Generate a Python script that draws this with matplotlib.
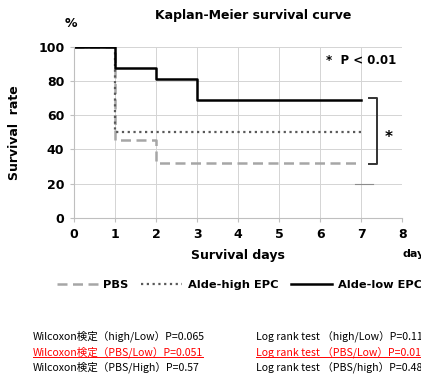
import matplotlib.pyplot as plt
from matplotlib.lines import Line2D

plt.rcParams['font.family'] = ['DejaVu Sans']

# survival data (% surviving at each day, step after)
days = [0, 1, 2, 3, 7]
low_epc = [100, 87.5, 81.25, 68.75, 68.75]
high_epc = [100, 50, 50, 50, 50]
pbs = [100, 45.5, 31.8, 31.8, 31.8]

xticks = list(range(0, 9))
yticks = [0, 20, 40, 60, 80, 100]

stats_left = ['Wilcoxon検定（high/Low）P=0.065',
              'Wilcoxon検定（PBS/Low）P=0.051',
              'Wilcoxon検定（PBS/High）P=0.57']
stats_right = ['Log rank test （high/Low）P=0.11',
               'Log rank test （PBS/Low）P=0.01',
               'Log rank test （PBS/high）P=0.48']
highlight_row = 1

fig = plt.figure(figsize=(4.21, 3.77), dpi=100)
ax = fig.add_axes([0.176, 0.422, 0.780, 0.454])

ax.step(days, pbs, where='post', color='#a6a6a6', lw=1.8, ls=(0, (4, 2.2)), label='PBS')
ax.step(days, high_epc, where='post', color='#595959', lw=1.6, ls=(0, (1, 1.6)), label='Alde-high EPC')
ax.step(days, low_epc, where='post', color='black', lw=1.8, label='Alde-low EPC')

ax.set_xlim(0, 8)
ax.set_ylim(0, 100)
ax.set_xticks(xticks)
ax.set_yticks(yticks)
ax.grid(True, color='#d4d4d4', lw=0.7)
ax.set_axisbelow(True)
for s in ['top', 'right']:
    ax.spines[s].set_visible(False)
for s in ['left', 'bottom']:
    ax.spines[s].set_color('#bfbfbf')
    ax.spines[s].set_linewidth(0.8)
ax.tick_params(length=3, color='#bfbfbf', labelsize=9, pad=4)
for lab in ax.get_xticklabels() + ax.get_yticklabels():
    lab.set_fontweight('bold')

ax.set_title('Kaplan-Meier survival curve', fontsize=9, fontweight='bold', pad=20, x=0.545)
ax.set_xlabel('Survival days', fontsize=9, fontweight='bold', labelpad=6)
ax.set_ylabel('Survival  rate', fontsize=9, fontweight='bold', labelpad=12)
ax.text(-0.03, 1.115, '%', transform=ax.transAxes, fontsize=9, fontweight='bold', ha='left')
ax.text(8.0, -21, 'days', fontsize=8, fontweight='bold', ha='left', va='center', clip_on=False)

# significance annotation
ax.text(7.0, 92, '*  P < 0.01', fontsize=8.5, fontweight='bold', ha='center', va='center')
ax.plot([7.18, 7.38, 7.38, 7.18], [69.9, 69.9, 31.3, 31.3], color='#333333', lw=1.4, clip_on=False)
ax.text(7.66, 47, '*', fontsize=11, fontweight='bold', ha='center', va='center', clip_on=False)
ax.plot([6.85, 7.27], [20, 20], color='#8c8c8c', lw=0.8)

fig.legend(loc='center', bbox_to_anchor=(0.568, 0.245), ncol=3, frameon=False,
           handlelength=3.6, handletextpad=0.5, columnspacing=1.1,
           prop={'weight': 'bold', 'size': 8.2})

# test results
cjk = ['Noto Sans CJK JP', 'DejaVu Sans']
ys = [0.107, 0.067, 0.027]
fig.canvas.draw()
rend = fig.canvas.get_renderer()
for i, y in enumerate(ys):
    for x, s in [(0.078, stats_left[i]), (0.607, stats_right[i])]:
        col = 'red' if i == highlight_row else 'black'
        t = fig.text(x, y, s, fontsize=7.6, family=cjk, color=col, va='center', ha='left')
        if i == highlight_row:
            bb = t.get_window_extent(rend).transformed(fig.transFigure.inverted())
            fig.add_artist(Line2D([bb.x0, bb.x1], [bb.y0 + 0.002, bb.y0 + 0.002],
                                  color='red', lw=0.7, transform=fig.transFigure))

fig.savefig('out.png', dpi=100)
